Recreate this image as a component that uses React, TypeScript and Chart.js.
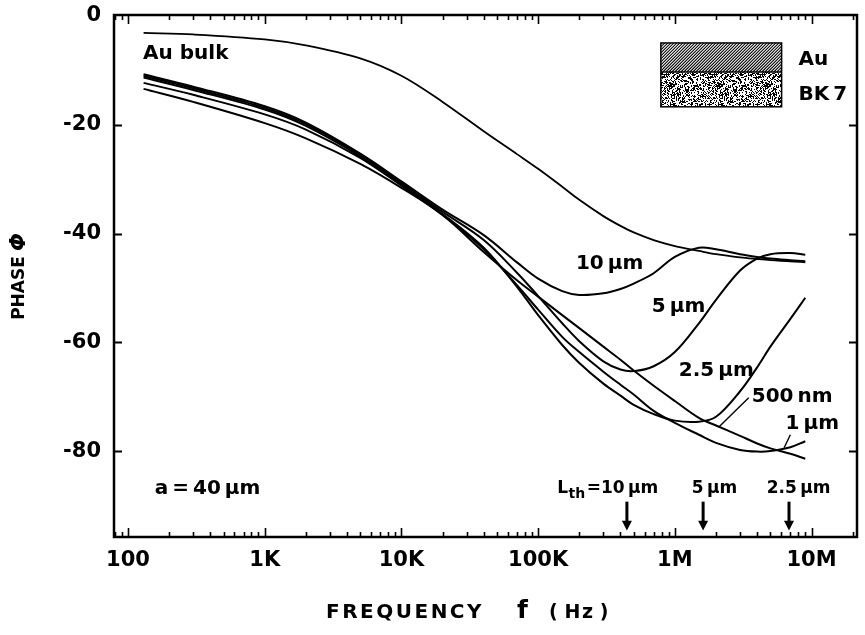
import React, { useEffect, useRef } from "react";
import { Chart, registerables } from "chart.js";

Chart.register(...registerables);

const FONT = '"DejaVu Sans", "Liberation Sans", Arial, sans-serif';

// ---- axes ----
const xMin = 79;
const xMax = 2.15e7;
const yMin = -95.8;
const yMax = 0.18;
const xTickValues = [100, 1000, 10000, 100000, 1000000, 10000000];
const xTickLabels = ["100", "1K", "10K", "100K", "1M", "10M"];
const yTickValues = [0, -20, -40, -60, -80];
const yTickLabels = ["0", "-20", "-40", "-60", "-80"];

// ---- series: shared frequency grid (Hz) and phase (deg) per film ----
const freqHz = [130, 300, 1000, 2000, 5000, 1e4, 2e4, 4e4, 7e4, 1e5, 1.5e5, 2e5, 3e5, 4e5, 5e5, 7e5, 1e6, 1.5e6, 2e6, 3e6, 4e6, 5e6, 7e6, 9e6];

const bulkPhase = [-3.1, -3.4, -4.3, -5.4, -7.8, -11.0, -15.8, -21.2, -25.4, -28.1, -31.4, -33.8, -36.8, -38.6, -39.8, -41.2, -42.3, -43.2, -43.8, -44.4, -44.7, -44.9, -45.1, -45.3];
const tenUmPhase = [-10.7, -13.0, -16.6, -19.6, -25.3, -30.4, -35.6, -40.3, -45.3, -48.3, -50.6, -51.3, -51.0, -50.2, -49.2, -47.3, -44.3, -42.6, -42.9, -43.8, -44.3, -44.6, -44.9, -45.1];
const fiveUmPhase = [-11.0, -13.3, -16.9, -19.9, -25.5, -30.7, -36.0, -41.2, -47.2, -51.5, -56.5, -59.8, -63.5, -65.0, -65.3, -64.4, -61.8, -56.5, -52.2, -46.8, -44.6, -43.8, -43.6, -43.9];
const twoHalfUmPhase = [-11.3, -13.6, -17.2, -20.2, -25.8, -31.0, -36.4, -42.6, -49.8, -55.0, -60.5, -63.8, -67.6, -69.8, -71.5, -73.2, -74.4, -74.6, -73.7, -69.0, -64.6, -60.8, -55.7, -51.8];
const oneUmPhase = [-12.3, -14.5, -18.1, -20.9, -26.1, -31.2, -36.6, -42.9, -49.5, -54.0, -59.0, -61.8, -65.4, -67.8, -69.6, -72.6, -74.8, -77.0, -78.5, -79.8, -80.1, -80.0, -79.3, -78.2];
const fiveHundredNmPhase = [-13.4, -15.8, -19.7, -22.5, -27.2, -31.6, -36.6, -43.4, -48.6, -51.6, -55.0, -57.4, -60.8, -63.2, -65.2, -68.0, -70.8, -73.9, -75.3, -77.2, -78.6, -79.5, -80.5, -81.4];

const seriesNames = ["Au bulk", "10 µm", "5 µm", "2.5 µm", "1 µm", "500 nm"];
const seriesPhases = [bulkPhase, tenUmPhase, fiveUmPhase, twoHalfUmPhase, oneUmPhase, fiveHundredNmPhase];

// ---- annotations (data coordinates) ----
const curveLabels = [
  { text: "Au bulk", f: 129, p: -7.0 },
  { text: "10\u2009µm", f: 1.89e5, p: -45.6 },
  { text: "5\u2009µm", f: 6.79e5, p: -53.5 },
  { text: "2.5\u2009µm", f: 1.07e6, p: -65.3 },
  { text: "500\u2009nm", f: 3.65e6, p: -70.0 },
  { text: "1\u2009µm", f: 6.46e6, p: -75.0 },
  { text: "a\u2009=\u200940\u2009µm", f: 157, p: -86.9 },
];
const pointers = [
  { f1: 2.09e6, p1: -75.6, f2: 3.47e6, p2: -70.2 },
  { f1: 6.3e6, p1: -79.4, f2: 7.0e6, p2: -77.0 },
];
const arrowFreqs = [4.46e5, 1.61e6, 6.84e6];
const arrowLabelFreqs = [1.38e5, 1.33e6, 4.7e6];
const arrowLabels = ["=10\u2009µm", "5\u2009µm", "2.5\u2009µm"];

function stipple(ctx: CanvasRenderingContext2D) {
  const c = document.createElement("canvas");
  c.width = 48;
  c.height = 48;
  const g = c.getContext("2d")!;
  g.fillStyle = "#fff";
  g.fillRect(0, 0, 48, 48);
  g.fillStyle = "#000";
  let s = 12345;
  for (let i = 0; i < 1200; i++) {
    s = (Math.imul(s, 1103515245) + 12345) >>> 0;
    const x = (s >>> 16) % 48;
    s = (Math.imul(s, 1103515245) + 12345) >>> 0;
    const y = (s >>> 16) % 48;
    g.fillRect(x, y, 1, 1);
  }
  return ctx.createPattern(c, "repeat");
}

function setLS(ctx: any, v: string) {
  try {
    ctx.letterSpacing = v;
  } catch (e) {}
}

const overlayPlugin = {
  id: "overlay",
  afterDraw(chart: any) {
    const { ctx, chartArea: ca, scales } = chart;
    const xs = scales.x;
    const ys = scales.y;
    const X = (f: number) => xs.getPixelForValue(f);
    const Y = (p: number) => ys.getPixelForValue(p);
    ctx.save();
    ctx.strokeStyle = "#000";
    ctx.fillStyle = "#000";

    // frame
    ctx.lineWidth = 2.5;
    ctx.strokeRect(ca.left, ca.top, ca.right - ca.left, ca.bottom - ca.top);

    // x tick marks (inward, bottom and top)
    ctx.lineWidth = 1.6;
    for (let e = 1; e <= 7; e++) {
      const d = Math.pow(10, e);
      for (let m = 1; m <= 9; m++) {
        const v = m * d;
        if (v < xs.min || v > xs.max) continue;
        const px = Math.round(X(v)) + 0.5;
        const len = m === 1 ? 9 : 5;
        ctx.beginPath();
        ctx.moveTo(px, ca.bottom);
        ctx.lineTo(px, ca.bottom - len);
        ctx.moveTo(px, ca.top);
        ctx.lineTo(px, ca.top + len);
        ctx.stroke();
      }
    }
    // y tick marks (inward, left and right)
    ctx.lineWidth = 2;
    yTickValues.forEach((v) => {
      if (v === 0) return;
      const py = Math.round(Y(v)) + 0.5;
      ctx.beginPath();
      ctx.moveTo(ca.left, py);
      ctx.lineTo(ca.left + 8, py);
      ctx.moveTo(ca.right, py);
      ctx.lineTo(ca.right - 8, py);
      ctx.stroke();
    });

    // curve labels
    ctx.textAlign = "left";
    ctx.textBaseline = "middle";
    ctx.font = `bold 20px ${FONT}`;
    setLS(ctx, "0px");
    curveLabels.forEach((l) => ctx.fillText(l.text, X(l.f), Y(l.p)));

    // pointer lines
    ctx.lineWidth = 1.4;
    pointers.forEach((q) => {
      ctx.beginPath();
      ctx.moveTo(X(q.f1), Y(q.p1));
      ctx.lineTo(X(q.f2), Y(q.p2));
      ctx.stroke();
    });

    // thermal length arrows
    arrowFreqs.forEach((f) => {
      const x = X(f);
      const y0 = Y(-89.3);
      const y1 = Y(-93.0);
      const y2 = Y(-94.6);
      ctx.lineWidth = 3;
      ctx.beginPath();
      ctx.moveTo(x, y0);
      ctx.lineTo(x, y1);
      ctx.stroke();
      ctx.beginPath();
      ctx.moveTo(x - 5, y1 - 1);
      ctx.lineTo(x + 5, y1 - 1);
      ctx.lineTo(x, y2);
      ctx.closePath();
      ctx.fill();
    });
    ctx.textBaseline = "alphabetic";
    const by = Y(-87.7);
    arrowLabels.forEach((t, i) => {
      let x = X(arrowLabelFreqs[i]);
      ctx.font = `bold 17px ${FONT}`;
      if (i === 0) {
        ctx.fillText("L", x, by);
        x += ctx.measureText("L").width + 0.5;
        ctx.font = `bold 14px ${FONT}`;
        ctx.fillText("th", x, by + 5);
        x += ctx.measureText("th").width + 1.5;
        ctx.font = `bold 17px ${FONT}`;
      }
      ctx.fillText(t, x, by);
    });

    // layer legend inset
    const lx0 = X(7.9e5);
    const lx1 = X(6.04e6);
    const ly0 = Y(-4.96);
    const ly1 = Y(-10.3);
    const ly2 = Y(-16.7);
    ctx.save();
    ctx.beginPath();
    ctx.rect(lx0, ly0, lx1 - lx0, ly1 - ly0);
    ctx.clip();
    ctx.lineWidth = 1.1;
    for (let k = -40; k < lx1 - lx0 + 40; k += 3) {
      ctx.beginPath();
      ctx.moveTo(lx0 + k, ly1);
      ctx.lineTo(lx0 + k + (ly1 - ly0), ly0);
      ctx.stroke();
    }
    ctx.restore();
    const pat = stipple(ctx);
    if (pat) {
      ctx.fillStyle = pat;
      ctx.fillRect(lx0, ly1, lx1 - lx0, ly2 - ly1);
    }
    ctx.fillStyle = "#000";
    ctx.lineWidth = 1.5;
    ctx.strokeRect(lx0, ly0, lx1 - lx0, ly2 - ly0);
    ctx.beginPath();
    ctx.moveTo(lx0, ly1);
    ctx.lineTo(lx1, ly1);
    ctx.stroke();
    ctx.font = `bold 20px ${FONT}`;
    ctx.textBaseline = "middle";
    ctx.fillText("Au", X(8.04e6), Y(-8.1));
    ctx.fillText("BK\u20097", X(8.04e6), Y(-14.5));

    // axis titles
    ctx.textBaseline = "alphabetic";
    setLS(ctx, "2.5px");
    ctx.font = `bold 20px ${FONT}`;
    ctx.fillText("FREQUENCY", 326, 618);
    setLS(ctx, "0px");
    ctx.font = `bold 25px ${FONT}`;
    ctx.fillText("f", 517, 618);
    setLS(ctx, "1.5px");
    ctx.font = `bold 19px ${FONT}`;
    ctx.fillText("(\u2009Hz\u2009)", 549, 618);

    ctx.save();
    ctx.translate(20, 288);
    ctx.rotate(-Math.PI / 2);
    ctx.textAlign = "center";
    ctx.textBaseline = "middle";
    setLS(ctx, "0px");
    ctx.font = `bold 17px ${FONT}`;
    ctx.fillText("PHASE", 0, 0);
    ctx.font = `italic bold 21px ${FONT}`;
    ctx.fillText("\u03A6", 46, 0);
    ctx.restore();

    ctx.restore();
  },
};

export default function App() {
  const ref = useRef<HTMLCanvasElement | null>(null);
  useEffect(() => {
    document.body.style.margin = "0";
    const canvas = ref.current;
    if (!canvas) return;
    const chart = new Chart(canvas, {
      type: "line",
      data: {
        datasets: seriesNames.map((name, si) => ({
          label: name,
          data: freqHz.map((f, i) => ({ x: f, y: seriesPhases[si][i] })),
          borderColor: "#000",
          borderWidth: si === 0 ? 1.8 : 2,
          pointRadius: 0,
          fill: false,
          tension: 0.35,
        })),
      },
      options: {
        animation: false,
        responsive: false,
        layout: { padding: { top: 15, right: 8, left: 0, bottom: 0 } },
        plugins: { legend: { display: false }, tooltip: { enabled: false } },
        scales: {
          x: {
            type: "logarithmic",
            min: xMin,
            max: xMax,
            grid: { display: false, drawTicks: false },
            border: { display: false },
            afterBuildTicks: (s: any) => {
              s.ticks = xTickValues.map((v) => ({ value: v }));
            },
            afterFit: (s: any) => {
              s.height = 98;
              s.paddingLeft = 0;
              s.paddingRight = 0;
            },
            ticks: {
              autoSkip: false,
              maxRotation: 0,
              padding: 11,
              color: "#000",
              font: { family: FONT, size: 21, weight: "bold" },
              callback: (v: any) => {
                const i = xTickValues.indexOf(Number(v));
                return i >= 0 ? xTickLabels[i] : "";
              },
            },
          },
          y: {
            type: "linear",
            min: yMin,
            max: yMax,
            grid: { display: false, drawTicks: false },
            border: { display: false },
            afterBuildTicks: (s: any) => {
              s.ticks = yTickValues.map((v) => ({ value: v }));
            },
            afterFit: (s: any) => {
              s.width = 114;
              s.paddingTop = 0;
              s.paddingBottom = 0;
            },
            ticks: {
              autoSkip: false,
              padding: 13,
              color: "#000",
              font: { family: FONT, size: 21, weight: "bold" },
              callback: (v: any) => {
                const i = yTickValues.indexOf(Number(v));
                return i >= 0 ? yTickLabels[i] : "";
              },
            },
          },
        },
      },
      plugins: [overlayPlugin],
    } as any);
    return () => chart.destroy();
  }, []);
  return (
    <div style={{ width: 865, height: 635, background: "#fff" }}>
      <canvas ref={ref} width={865} height={635} />
    </div>
  );
}
